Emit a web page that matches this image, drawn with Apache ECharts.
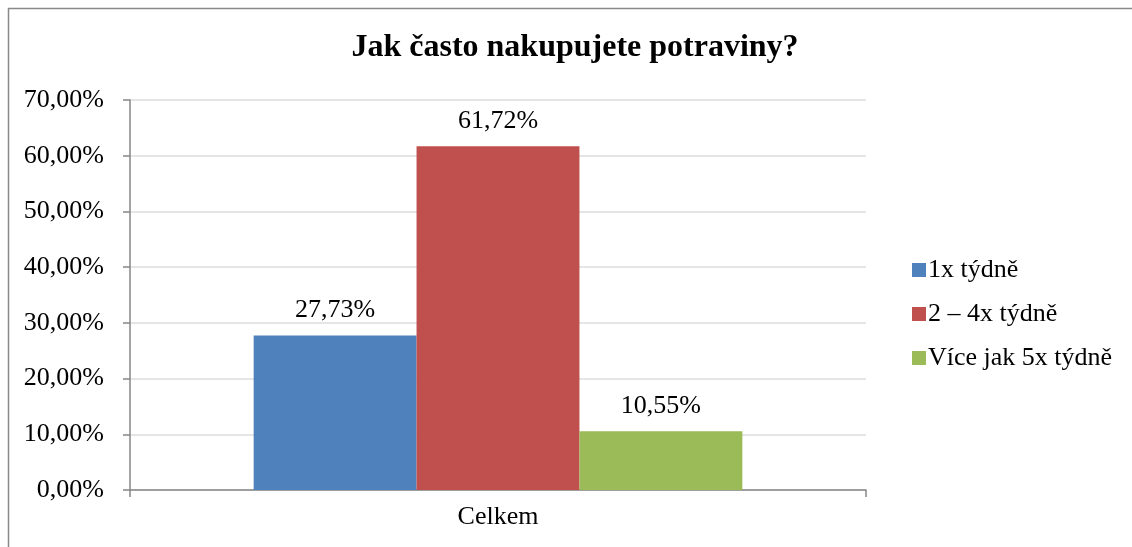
<!DOCTYPE html>
<html>
<head>
<meta charset="utf-8">
<script src="https://cdn.jsdelivr.net/npm/echarts@6/dist/echarts.min.js"></script>
<style>html,body{margin:0;padding:0;background:#fff}#c{width:1132px;height:547px}</style>
</head>
<body>
<div id="c"></div>
<script>
const titleText = 'Jak často nakupujete potraviny?';
const categories = ['Celkem'];
const seriesNames = ['1x týdně', '2 – 4x týdně', 'Více jak 5x týdně'];
const seriesValues = [[27.73], [61.72], [10.55]];
const seriesColors = ['#4F81BD', '#C0504D', '#9BBB59'];
const yTicks = { min: 0, max: 70, interval: 10 };

const FONT = '"Liberation Serif", "Times New Roman", serif';
const fmt = v => v.toFixed(2).replace('.', ',') + '%';

const chart = echarts.init(document.getElementById('c'), null, { renderer: 'canvas' });
chart.setOption({
  animation: false,
  backgroundColor: '#fff',
  graphic: [{
    type: 'polyline', silent: true, z: -10,
    shape: { points: [[8.5, 560], [8.5, 8.5], [1140, 8.5]] },
    style: { fill: 'none', stroke: '#888888', lineWidth: 1.5 }
  }],
  title: {
    text: titleText, left: 570, top: 27, textAlign: 'center',
    textStyle: { fontFamily: FONT, fontWeight: 'bold', fontSize: 32, color: '#000' }
  },
  legend: {
    orient: 'vertical', left: 907, top: 252,
    itemWidth: 14, itemHeight: 14, itemGap: 18, icon: 'rect',
    textStyle: { fontFamily: FONT, fontSize: 26, color: '#000', padding: [0, 0, 0, -3] },
    data: seriesNames
  },
  grid: { left: 130, right: 266, top: 100, bottom: 57, containLabel: false },
  xAxis: {
    type: 'category', data: categories, boundaryGap: true,
    axisLine: { lineStyle: { color: '#868686', width: 1.5 } },
    axisTick: { show: true, length: 7, lineStyle: { color: '#868686', width: 1.5 } },
    axisLabel: { fontFamily: FONT, fontSize: 26, color: '#000', margin: 14 }
  },
  yAxis: {
    type: 'value', min: yTicks.min, max: yTicks.max, interval: yTicks.interval,
    axisLine: { show: true, lineStyle: { color: '#868686', width: 1.5 } },
    axisTick: { show: true, length: 7, lineStyle: { color: '#868686', width: 1.5 } },
    splitLine: { lineStyle: { color: '#DCDCDC', width: 1.5 } },
    axisLabel: { fontFamily: FONT, fontSize: 26, color: '#000', margin: 26, formatter: v => fmt(v) }
  },
  series: seriesNames.map((n, i) => ({
    type: 'bar', name: n, data: seriesValues[i],
    barGap: '0%', barCategoryGap: '33.6%',
    itemStyle: { color: seriesColors[i] },
    label: {
      show: true, position: 'top', distance: 12,
      fontFamily: FONT, fontSize: 26, color: '#000',
      formatter: p => fmt(p.value)
    }
  }))
});
</script>
</body>
</html>
